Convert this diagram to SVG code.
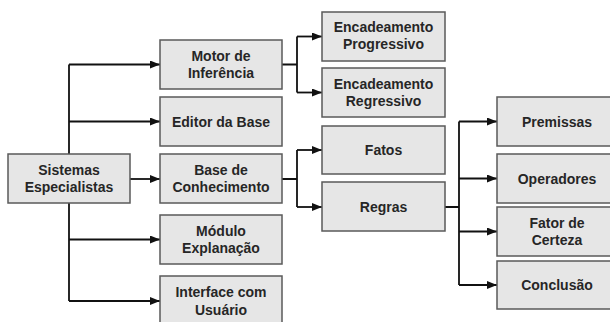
<svg xmlns="http://www.w3.org/2000/svg" width="610" height="322" viewBox="0 0 610 322">
<style>
.b{fill:#e6e6e6;stroke:#5a5a5a;stroke-width:1.5}
.t{font-family:"Liberation Sans",Arial,sans-serif;font-weight:bold;font-size:14px;fill:#262626;text-anchor:middle}
.c{fill:none;stroke:#111;stroke-width:1.8}
.a{fill:none;stroke:#111;stroke-width:1.8;marker-end:url(#ah)}
</style>
<defs>
<marker id="ah" viewBox="0 0 10 8" refX="10" refY="4" markerWidth="10" markerHeight="8" markerUnits="userSpaceOnUse" orient="auto">
<path d="M0,0 L10,4 L0,8 z" fill="#111"/>
</marker>
</defs>
<rect width="610" height="322" fill="#fff"/>
<g id="connectors">
<path class="c" d="M69,154 V64.5"/>
<path class="a" d="M69,64.5 H160"/>
<path class="a" d="M69,121.5 H160"/>
<path class="a" d="M130,179 H160"/>
<path class="c" d="M69,203 V301"/>
<path class="a" d="M69,239.5 H160"/>
<path class="a" d="M69,301 H160"/>
<path class="c" d="M282,64.5 H297 M297,36.5 V92.5"/>
<path class="a" d="M297,36.5 H322"/>
<path class="a" d="M297,92.5 H322"/>
<path class="c" d="M282,179 H297 M297,150 V207"/>
<path class="a" d="M297,150 H322"/>
<path class="a" d="M297,207 H322"/>
<path class="c" d="M445,207 H459 M459,121.5 V285"/>
<path class="a" d="M459,121.5 H497"/>
<path class="a" d="M459,178.5 H497"/>
<path class="a" d="M459,231.5 H497"/>
<path class="a" d="M459,285 H497"/>
</g>
<g id="sistemas"><rect class="b" x="8" y="154" width="122" height="49"/><text class="t" x="69" y="175">Sistemas</text><text class="t" x="69" y="192">Especialistas</text></g>
<g id="motor"><rect class="b" x="160" y="40" width="122" height="49"/><text class="t" x="221" y="61">Motor de</text><text class="t" x="221" y="78">Inferência</text></g>
<g id="editor"><rect class="b" x="160" y="97" width="122" height="49"/><text class="t" x="221" y="126.5">Editor da Base</text></g>
<g id="base"><rect class="b" x="160" y="154" width="122" height="49"/><text class="t" x="221" y="175">Base de</text><text class="t" x="221" y="192">Conhecimento</text></g>
<g id="modulo"><rect class="b" x="160" y="215" width="122" height="49"/><text class="t" x="221" y="236">Módulo</text><text class="t" x="221" y="253">Explanação</text></g>
<g id="interface"><rect class="b" x="160" y="276" width="122" height="49"/><text class="t" x="221" y="297">Interface com</text><text class="t" x="221" y="314.5">Usuário</text></g>
<g id="progressivo"><rect class="b" x="322" y="12" width="123" height="49"/><text class="t" x="383.5" y="32">Encadeamento</text><text class="t" x="383.5" y="49">Progressivo</text></g>
<g id="regressivo"><rect class="b" x="322" y="68" width="123" height="49"/><text class="t" x="383.5" y="88.5">Encadeamento</text><text class="t" x="383.5" y="105.5">Regressivo</text></g>
<g id="fatos"><rect class="b" x="322" y="126" width="123" height="48"/><text class="t" x="383.5" y="155">Fatos</text></g>
<g id="regras"><rect class="b" x="322" y="182" width="123" height="49"/><text class="t" x="383.5" y="211.5">Regras</text></g>
<g id="premissas"><rect class="b" x="497" y="97" width="120" height="49"/><text class="t" x="557" y="126.5">Premissas</text></g>
<g id="operadores"><rect class="b" x="497" y="154" width="120" height="49"/><text class="t" x="557" y="183.5">Operadores</text></g>
<g id="fator"><rect class="b" x="497" y="207" width="120" height="49"/><text class="t" x="557" y="228">Fator de</text><text class="t" x="557" y="245">Certeza</text></g>
<g id="conclusao"><rect class="b" x="497" y="261" width="120" height="48"/><text class="t" x="557" y="290">Conclusão</text></g>
</svg>
